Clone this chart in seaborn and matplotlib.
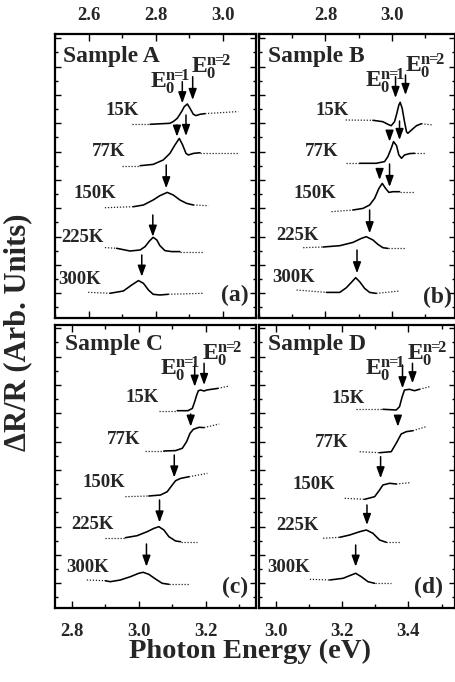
import matplotlib
matplotlib.use("Agg")
import matplotlib.pyplot as plt
from matplotlib.ticker import MultipleLocator, FixedLocator, FormatStrFormatter, NullFormatter
import pandas as pd
import seaborn as sns

sns.set_style("ticks")
plt.rcParams["font.family"] = ["Liberation Serif", "DejaVu Serif"]
plt.rcParams["font.weight"] = "bold"
plt.rcParams["mathtext.fontset"] = "custom"
plt.rcParams["mathtext.rm"] = "Liberation Serif:bold"
plt.rcParams["mathtext.bf"] = "Liberation Serif:bold"
plt.rcParams["mathtext.it"] = "Liberation Serif:bold"

# ---------------- data ----------------
temps = ["15K", "77K", "150K", "225K", "300K"]
panel_tags = ["(a)", "(b)", "(c)", "(d)"]
sample_names = ["Sample A", "Sample B", "Sample C", "Sample D"]

# photon energy (eV) and dR/R signal (arb. units) for each spectrum;
# first and last segments are the measured tails, the middle is the fit
a15_ev = [2.729, 2.784, 2.843, 2.853, 2.865, 2.878, 2.886, 2.895, 2.903, 2.913, 2.921, 2.933, 2.948, 3.047]
a15_dr = [0, 0, 1, 2.7, 6, 12.7, 17.7, 20.3, 16, 10, 8.7, 10, 10.7, 12.7]
a77_ev = [2.699, 2.754, 2.793, 2.823, 2.843, 2.858, 2.871, 2.881, 2.891, 2.898, 2.913, 2.933, 3.047]
a77_dr = [0, 0, 1.3, 5.7, 12.3, 20.7, 27.3, 20.7, 12.3, 10.7, 12.3, 13, 13]
a150_ev = [2.649, 2.734, 2.764, 2.793, 2.813, 2.835, 2.853, 2.873, 2.893, 2.913, 2.958]
a150_dr = [0, 1, 2.7, 7.7, 12, 15.3, 12.7, 7.7, 4.3, 2.7, 2]
a225_ev = [2.649, 2.684, 2.724, 2.754, 2.769, 2.782, 2.793, 2.804, 2.813, 2.828, 2.848, 2.873, 2.943]
a225_dr = [0.7, 0, -2.7, -1.7, 1.7, 7.3, 11, 8.3, 2.7, -2.3, -3.3, -3.3, -3.3]
a300_ev = [2.599, 2.664, 2.704, 2.729, 2.749, 2.764, 2.779, 2.793, 2.813, 2.838, 2.943]
a300_dr = [1, 0, 2.3, 8.3, 12.7, 10, 3.3, -1, -1.7, -1, 0]

b15_ev = [2.861, 2.943, 2.973, 2.988, 2.998, 3.008, 3.015, 3.021, 3.025, 3.031, 3.038, 3.044, 3.048, 3.059, 3.074, 3.089, 3.124]
b15_dr = [0, -0.3, -1.7, -4.3, -5.7, -1.7, 6.7, 15, 17.7, 11.7, -1.7, -11.7, -13.3, -10, -5.7, -3.7, -5]
b77_ev = [2.863, 2.903, 2.953, 2.978, 2.988, 2.998, 3.005, 3.014, 3.021, 3.029, 3.038, 3.053, 3.068, 3.104]
b77_dr = [0, 0, 0, 1.7, 6.7, 15, 21.7, 17.7, 8.3, 5, 8.3, 9.7, 10, 10]
b150_ev = [2.818, 2.883, 2.913, 2.933, 2.948, 2.961, 2.971, 2.981, 2.991, 3.003, 3.023, 3.068]
b150_dr = [0, 1.7, 3.3, 6.7, 13.3, 23.3, 28.3, 23.3, 19.3, 20, 20, 20]
b225_ev = [2.733, 2.793, 2.843, 2.883, 2.908, 2.923, 2.943, 2.958, 2.973, 2.988, 3.038]
b225_dr = [0, 0.7, 2, 5.3, 9.3, 11, 7.7, 3.3, 0, -0.7, -0.7]
b300_ev = [2.713, 2.803, 2.843, 2.863, 2.878, 2.891, 2.903, 2.918, 2.933, 2.953, 3.023]
b300_dr = [1.7, -0.7, -0.7, 4, 9.3, 14, 10, 3.3, -0.7, -1.7, 0.7]

c15_ev = [3.060, 3.115, 3.147, 3.160, 3.167, 3.173, 3.178, 3.185, 3.195, 3.203, 3.215, 3.236, 3.270]
c15_dr = [0, 0, 0, 2.3, 9, 15.7, 20, 20.7, 19.7, 20.7, 21.3, 22.3, 24.7]
c77_ev = [3.020, 3.075, 3.110, 3.130, 3.143, 3.153, 3.163, 3.180, 3.195, 3.240]
c77_dr = [0.3, 0.3, 0.7, 3, 9.7, 18, 22, 24, 23.7, 27.3]
c150_ev = [2.960, 3.030, 3.065, 3.085, 3.100, 3.110, 3.125, 3.150, 3.205]
c150_dr = [0, 0.7, 1.7, 5, 11.7, 16, 18.3, 20, 23.3]
c225_ev = [2.900, 2.960, 2.995, 3.025, 3.045, 3.060, 3.075, 3.090, 3.110, 3.125, 3.175]
c225_dr = [0, 0, 2, 6, 9.3, 11, 7.7, 1, -3.3, -4, -4]
c300_ev = [2.845, 2.900, 2.915, 2.945, 2.975, 3.000, 3.013, 3.030, 3.050, 3.070, 3.090, 3.150]
c300_dr = [0, -0.7, -1.7, 0, 3.3, 6.7, 7.7, 5.7, 1, -3.3, -4.3, -4.3]

d15_ev = [3.243, 3.323, 3.363, 3.373, 3.381, 3.388, 3.403, 3.418, 3.433, 3.463]
d15_dr = [0, 0, -0.7, 2.6, 12.6, 19.3, 20, 18.6, 20, 22.6]
d77_ev = [3.253, 3.313, 3.348, 3.363, 3.378, 3.393, 3.413, 3.453]
d77_dr = [0, -1, 0, 8.4, 17.7, 20, 21, 25]
d150_ev = [3.208, 3.268, 3.298, 3.313, 3.323, 3.343, 3.363, 3.403]
d150_dr = [0, -1, 1.6, 8.3, 13.3, 15, 14.3, 15.6]
d225_ev = [3.143, 3.193, 3.223, 3.253, 3.273, 3.293, 3.313, 3.333, 3.373]
d225_dr = [0, 1, 3.3, 6.6, 8.3, 5, -1.7, -4, -4]
d300_ev = [3.103, 3.163, 3.203, 3.228, 3.241, 3.258, 3.278, 3.298, 3.348]
d300_dr = [0, -0.7, 1, 4.3, 6, 2.6, -2.4, -4, -4]

# vertical stacking offsets (15K ... 300K)
a_offset = [193.7, 152.3, 110.3, 69.7, 24.7]
b_offset = [198.0, 154.7, 106.3, 70.3, 26.3]
c_offset = [197.3, 156.7, 111.3, 70.3, 28.0]
d_offset = [198.7, 156.3, 109.7, 69.7, 28.7]

# E0 transition markers: energy (eV), arrow tail level, arrow tip level
a_e0 = [2.880, 2.911, 2.864, 2.891, 2.832, 2.792, 2.759]
a_e0_top = [236.3, 241.3, 193.0, 203.0, 153.0, 103.0, 63.0]
a_e0_tip = [214.7, 218.0, 181.3, 182.0, 129.7, 81.3, 41.3]
b_e0 = [3.011, 3.041, 2.993, 3.023, 2.963, 2.993, 2.933, 2.895]
b_e0_top = [241.3, 243.0, 186.3, 197.0, 148.0, 154.0, 108.0, 68.0]
b_e0_tip = [220.0, 223.0, 176.3, 178.0, 138.0, 131.0, 84.7, 44.7]
c_e0 = [3.167, 3.195, 3.155, 3.106, 3.062, 3.023]
c_e0_top = [243.0, 244.7, 194.0, 153.0, 108.0, 64.0]
c_e0_tip = [221.3, 223.0, 181.3, 130.5, 85.5, 41.3]
d_e0 = [3.382, 3.412, 3.368, 3.316, 3.275, 3.241]
d_e0_top = [243.0, 244.7, 191.3, 151.3, 103.0, 63.0]
d_e0_tip = [219.7, 224.7, 181.3, 129.7, 83.0, 41.3]

# axis ranges and labelled ticks
x_ranges = [(2.5, 3.1), (2.6, 3.19), (2.75, 3.35), (2.95, 3.54)]
x_major = [[2.6, 2.8, 3.0], [2.8, 3.0], [2.8, 3.0, 3.2], [3.0, 3.2, 3.4]]
y_ranges = [(0, 284), (0, 284), (0, 283), (0, 283)]

# ---------------- layout ----------------
W, H = 456, 682
fig = plt.figure(figsize=(W / 100, H / 100), dpi=100)


def add_panel(left, top, right, bottom):
    return fig.add_axes([left / W, 1 - bottom / H, (right - left) / W, (bottom - top) / H])


axes = [add_panel(55, 34, 256, 318), add_panel(259, 34, 455, 318),
        add_panel(55, 325, 256, 608), add_panel(259, 325, 455, 608)]

curves = [
    [(a15_ev, a15_dr), (a77_ev, a77_dr), (a150_ev, a150_dr), (a225_ev, a225_dr), (a300_ev, a300_dr)],
    [(b15_ev, b15_dr), (b77_ev, b77_dr), (b150_ev, b150_dr), (b225_ev, b225_dr), (b300_ev, b300_dr)],
    [(c15_ev, c15_dr), (c77_ev, c77_dr), (c150_ev, c150_dr), (c225_ev, c225_dr), (c300_ev, c300_dr)],
    [(d15_ev, d15_dr), (d77_ev, d77_dr), (d150_ev, d150_dr), (d225_ev, d225_dr), (d300_ev, d300_dr)],
]
offsets = [a_offset, b_offset, c_offset, d_offset]
markers = [(a_e0, a_e0_top, a_e0_tip), (b_e0, b_e0_top, b_e0_tip),
           (c_e0, c_e0_top, c_e0_tip), (d_e0, d_e0_top, d_e0_tip)]

# text placement (axes fraction)
temp_pos = [
    [(0.332, 0.730), (0.265, 0.586), (0.199, 0.437), (0.138, 0.284), (0.121, 0.136)],
    [(0.371, 0.732), (0.320, 0.586), (0.286, 0.437), (0.196, 0.289), (0.175, 0.143)],
    [(0.431, 0.744), (0.343, 0.594), (0.244, 0.443), (0.188, 0.294), (0.162, 0.143)],
    [(0.456, 0.739), (0.371, 0.585), (0.281, 0.438), (0.196, 0.290), (0.153, 0.143)],
]
name_pos = [(0.041, 0.900), (0.046, 0.900), (0.050, 0.910), (0.046, 0.910)]
tag_pos = [(0.962, 0.079), (0.985, 0.072), (0.962, 0.072), (0.939, 0.072)]
e1_pos = [(0.473, 0.810), (0.541, 0.813), (0.522, 0.823), (0.541, 0.823)]
e2_pos = [(0.677, 0.863), (0.745, 0.866), (0.730, 0.876), (0.755, 0.876)]

dot_style = dict(color="#222222", lw=0.9, ls=(0, (1, 1.4)))
fit_style = dict(color="black", lw=1.15, ls="-")

for i, ax in enumerate(axes):
    for (ev, dr), off in zip(curves[i], offsets[i]):
        df = pd.DataFrame({"ev": ev, "dr": [off + v for v in dr]})
        n = len(df)
        sns.lineplot(data=df.iloc[0:2], x="ev", y="dr", ax=ax, sort=False, estimator=None, **dot_style)
        sns.lineplot(data=df.iloc[1:n - 1], x="ev", y="dr", ax=ax, sort=False, estimator=None, **fit_style)
        sns.lineplot(data=df.iloc[n - 2:n], x="ev", y="dr", ax=ax, sort=False, estimator=None, **dot_style)

    e0, top, tip = markers[i]
    for x, y0, y1 in zip(e0, top, tip):
        ax.annotate("", xy=(x, y1), xytext=(x, y0),
                    arrowprops=dict(arrowstyle="-|>,head_length=0.55,head_width=0.2",
                                    color="black", lw=1.1, shrinkA=0, shrinkB=0,
                                    mutation_scale=12))

    for t, (fx, fy) in zip(temps, temp_pos[i]):
        ax.text(fx, fy, t, transform=ax.transAxes, ha="center", va="center",
                fontsize=13.5, fontweight="bold")
    ax.text(*name_pos[i], sample_names[i], transform=ax.transAxes, ha="left",
            va="baseline", fontsize=17, fontweight="bold")
    ax.text(*tag_pos[i], panel_tags[i], transform=ax.transAxes, ha="right",
            va="center", fontsize=17, fontweight="bold")
    ax.text(*e1_pos[i], r"$\mathbf{E}_{\mathbf{0}}^{\mathbf{n\!\!=\!\!1}}$", transform=ax.transAxes,
            ha="left", va="baseline", fontsize=17)
    ax.text(*e2_pos[i], r"$\mathbf{E}_{\mathbf{0}}^{\mathbf{n\!\!=\!\!2}}$", transform=ax.transAxes,
            ha="left", va="baseline", fontsize=17)

    ax.set_xlim(*x_ranges[i])
    ax.set_ylim(*y_ranges[i])
    ax.set_xlabel("")
    ax.set_ylabel("")
    ax.xaxis.set_major_locator(FixedLocator(x_major[i]))
    ax.xaxis.set_minor_locator(MultipleLocator(0.1))
    ax.xaxis.set_major_formatter(FormatStrFormatter("%.1f"))
    ax.yaxis.set_major_locator(MultipleLocator(28.33, offset=-3.6))
    ax.yaxis.set_minor_locator(MultipleLocator(14.165, offset=-3.6))
    ax.yaxis.set_major_formatter(NullFormatter())
    ax.tick_params(which="both", direction="in", top=True, bottom=True, left=True,
                   right=True, width=1.0, color="black")
    ax.tick_params(axis="x", which="major", length=5)
    ax.tick_params(axis="x", which="minor", length=3)
    ax.tick_params(axis="y", which="major", length=4)
    ax.tick_params(axis="y", which="minor", length=2)
    if i < 2:
        ax.tick_params(axis="x", labeltop=True, labelbottom=False, pad=7, labelsize=13.5)
    else:
        ax.tick_params(axis="x", labeltop=False, labelbottom=True, pad=11, labelsize=13.5)
    for lab in ax.get_xticklabels():
        lab.set_fontweight("bold")
    for sp in ax.spines.values():
        sp.set_linewidth(1.6)
        sp.set_color("black")

fig.text(18 / W, 1 - 332 / H, "ΔR/R (Arb. Units)", rotation=90, ha="center",
         va="center", fontsize=22, fontweight="bold")
fig.text(250 / W, 1 - 658 / H, "Photon Energy (eV)", ha="center", va="baseline",
         fontsize=20.5, fontweight="bold")

fig.savefig("out.png", dpi=100)
